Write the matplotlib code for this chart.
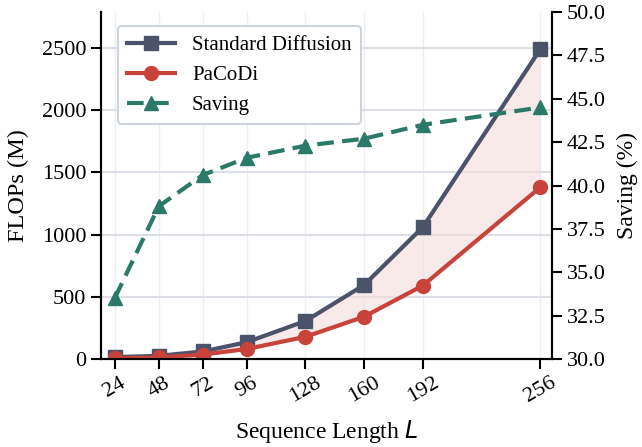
import numpy as np
import matplotlib.pyplot as plt

plt.rcParams['font.family'] = ['Liberation Serif', 'DejaVu Serif']

seq_len = [24, 48, 72, 96, 128, 160, 192, 256]
flops_standard = [15, 25, 60, 135, 305, 595, 1060, 2490]
flops_pacodi = [5, 12, 35, 80, 178, 340, 590, 1380]
saving = [33.5, 38.8, 40.6, 41.6, 42.3, 42.7, 43.5, 44.5]

c_std = '#4b536b'
c_pac = '#c8433a'
c_sav = '#2b7a69'

fig = plt.figure(figsize=(6.42, 4.47), dpi=100)
ax = fig.add_axes([0.157, 0.197, 0.703, 0.776])

ax.fill_between(seq_len, flops_pacodi, flops_standard, color='#f4dcda', alpha=0.6, lw=0, zorder=1)
l1, = ax.plot(seq_len, flops_standard, '-s', color=c_std, lw=3, ms=10, label='Standard Diffusion', zorder=3)
l2, = ax.plot(seq_len, flops_pacodi, '-o', color=c_pac, lw=3, ms=10, label='PaCoDi', zorder=3)

ax.set_xlim(16.4, 262.5)
ax.set_ylim(0, 2790)
ax.set_yticks([0, 500, 1000, 1500, 2000, 2500])
ax.set_xticks(seq_len)
ax.set_xticklabels([str(v) for v in seq_len], rotation=30)
ax.set_xlabel('Sequence Length $L$', fontsize=17, labelpad=8)
ax.set_ylabel('FLOPs (M)', fontsize=17.5, labelpad=9)
ax.grid(axis='y', color='#dcdfe6', lw=1.5)
ax.grid(axis='x', color='#ebeef3', lw=1)
ax.set_axisbelow(True)
ax.spines['top'].set_visible(False)
for s in ax.spines.values():
    s.set_linewidth(1.5)
ax.tick_params(labelsize=16, width=1.5, length=7.5, pad=3)

ax2 = ax.twinx()
l3, = ax2.plot(seq_len, saving, '--^', color=c_sav, lw=3, ms=10, dashes=(4, 2), label='Saving')
ax2.set_ylim(30, 50)
ax2.set_yticks(np.arange(30, 50.1, 2.5))
ax2.set_ylabel('Saving (%)', fontsize=17, labelpad=8)
ax2.spines['top'].set_visible(False)
for s in ax2.spines.values():
    s.set_linewidth(1.5)
ax2.tick_params(labelsize=16, width=1.5, length=7.5, pad=3)

leg = ax2.legend(handles=[l1, l2, l3], loc='upper left', fontsize=15,
                 frameon=True, fancybox=True, framealpha=1, edgecolor='#cfd3da',
                 handlelength=2.3, borderpad=0.45, labelspacing=0.5,
                 bbox_to_anchor=(0.015, 0.99))
leg.get_frame().set_linewidth(1.5)

fig.savefig('out.png', dpi=100)
